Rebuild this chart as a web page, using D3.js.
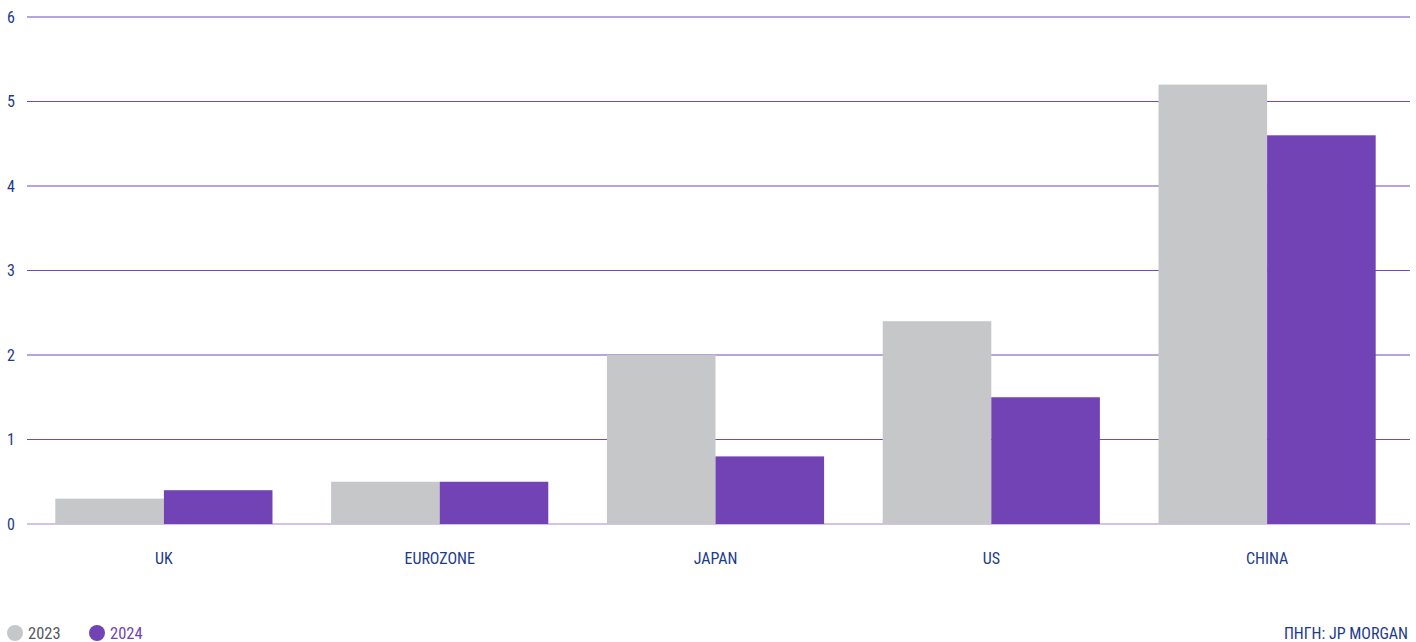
<!DOCTYPE html>
<html>
<head>
<meta charset="utf-8">
<script src="https://cdn.jsdelivr.net/npm/d3@7"></script>
<style>
  html, body { margin: 0; padding: 0; background: #fff; }
  svg { display: block; font-family: "Roboto Condensed", "Liberation Sans Narrow", "DejaVu Sans Condensed", Roboto, sans-serif; }
</style>
</head>
<body>
<div id="chart"></div>
<script>
// data
const categories = ['UK', 'EUROZONE', 'JAPAN', 'US', 'CHINA'];
const seriesNames = ['2023', '2024'];
const values2023 = [0.3, 0.5, 2.0, 2.4, 5.2];
const values2024 = [0.4, 0.5, 0.8, 1.5, 4.6];
const yTicks = [0, 1, 2, 3, 4, 5, 6];
const sourceLabel = 'ΠΗΓΗ: JP MORGAN';

const W = 1416, H = 642;
const margin = { top: 17, right: 6, bottom: 118, left: 27 };
const colors = { '2023': '#c6c7c9', '2024': '#7243b5' };
const textBlue = '#1c3b8c';

const svg = d3.select('#chart').append('svg')
  .attr('width', W).attr('height', H);

const x0 = d3.scaleBand().domain(categories)
  .range([26, 1405]).padding(0);
const x1 = d3.scaleBand().domain(seriesNames)
  .range([0, x0.bandwidth()]).paddingInner(0).paddingOuter(0.27);
const y = d3.scaleLinear().domain([0, 6])
  .range([H - margin.bottom, margin.top]);

// grid lines (behind bars)
svg.append('g').selectAll('line')
  .data(yTicks).enter().append('line')
  .attr('x1', margin.left).attr('x2', W - margin.right)
  .attr('y1', d => y(d)).attr('y2', d => y(d))
  .attr('stroke', d => d === 0 ? '#a488d6' : '#6f4bb8')
  .attr('stroke-width', 1.2);

// y labels
svg.append('g').selectAll('text')
  .data(yTicks).enter().append('text')
  .attr('x', 11).attr('y', d => y(d))
  .attr('dy', '0.35em')
  .attr('text-anchor', 'middle')
  .attr('fill', textBlue)
  .attr('font-size', 16)
  .text(d => d);

// bars
const rows = categories.map((c, i) => ({ cat: c, vals: [
  { key: '2023', v: values2023[i] },
  { key: '2024', v: values2024[i] }
] }));

svg.append('g').selectAll('g')
  .data(rows).enter().append('g')
  .attr('transform', d => `translate(${x0(d.cat)},0)`)
  .selectAll('rect')
  .data(d => d.vals).enter().append('rect')
  .attr('x', d => x1(d.key))
  .attr('width', x1.bandwidth())
  .attr('y', d => y(d.v))
  .attr('height', d => y(0) - y(d.v))
  .attr('fill', d => colors[d.key]);

// category labels
svg.append('g').selectAll('text')
  .data(categories).enter().append('text')
  .attr('x', d => x0(d) + x0.bandwidth() / 2)
  .attr('y', 558).attr('dy', '0.35em')
  .attr('text-anchor', 'middle')
  .attr('fill', textBlue)
  .attr('font-size', 16)
  .text(d => d);

// legend
const legend = svg.append('g').attr('transform', 'translate(0,633)');
const legX = [15, 97];
seriesNames.forEach((s, i) => {
  legend.append('circle')
    .attr('cx', legX[i]).attr('cy', 0).attr('r', 8)
    .attr('fill', colors[s]);
  legend.append('text')
    .attr('x', legX[i] + 13).attr('y', 0).attr('dy', '0.35em')
    .attr('fill', i === 0 ? '#555a60' : colors[s])
    .attr('font-size', 16.5)
    .text(s);
});

// source
svg.append('text')
  .attr('x', 1408).attr('y', 633).attr('dy', '0.35em')
  .attr('text-anchor', 'end')
  .attr('fill', textBlue)
  .attr('font-size', 16)
  .text(sourceLabel);
</script>
</body>
</html>
